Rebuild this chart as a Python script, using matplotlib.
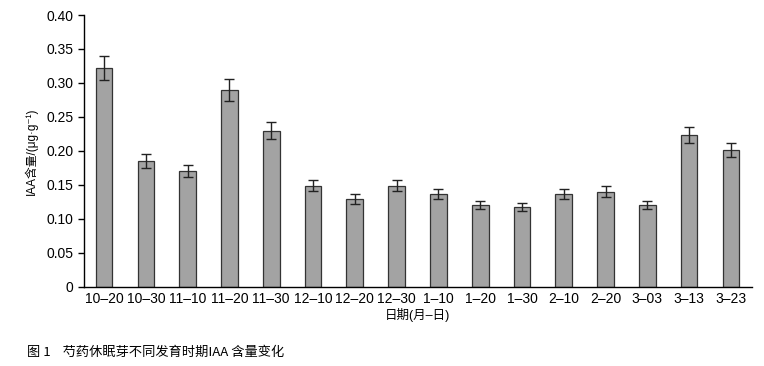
import numpy as np
import matplotlib
matplotlib.use("Agg")
import matplotlib.pyplot as plt

plt.rcParams['font.family'] = ['Liberation Sans', 'Noto Sans CJK SC', 'DejaVu Sans']

# === données ===
dates = ['10-20', '10-30', '11-10', '11-20', '11-30', '12-10', '12-20', '12-30',
         '1-10', '1-20', '1-30', '2-10', '2-20', '3-03', '3-13', '3-23']
iaa = [0.322, 0.185, 0.170, 0.290, 0.230, 0.149, 0.129, 0.149,
       0.137, 0.121, 0.118, 0.137, 0.140, 0.121, 0.224, 0.201]
err = [0.017, 0.010, 0.009, 0.016, 0.012, 0.008, 0.007, 0.008,
       0.007, 0.006, 0.006, 0.007, 0.008, 0.006, 0.012, 0.010]
yticks = [0, 0.05, 0.10, 0.15, 0.20, 0.25, 0.30, 0.35, 0.40]
ytick_labels = ['0', '0.05', '0.10', '0.15', '0.20', '0.25', '0.30', '0.35', '0.40']

fig = plt.figure(figsize=(7.64, 3.66), dpi=100)
ax = fig.add_axes([0.110, 0.216, 0.874, 0.743])

x = np.arange(len(dates))
ax.bar(x, iaa, width=0.4, color='#a3a3a3', edgecolor='#333333', linewidth=0.9,
       yerr=err, capsize=3.6, error_kw=dict(ecolor='#222222', elinewidth=1, capthick=1))

ax.set_xlim(-0.48, len(dates) - 0.5)
ax.set_ylim(0, 0.40)
ax.set_yticks(yticks)
ax.set_yticklabels(ytick_labels, fontsize=10)
ax.set_xticks(x)
ax.set_xticklabels([d.replace('-', '–') for d in dates], fontsize=10)
ax.tick_params(axis='x', length=0, pad=4)
ax.tick_params(axis='y', length=4, width=1)

for s in ['top', 'right']:
    ax.spines[s].set_visible(False)
for s in ['left', 'bottom']:
    ax.spines[s].set_linewidth(1)

ax.set_ylabel('IAA含量/(μg·g⁻¹)', fontsize=8.5, labelpad=6)
ax.set_xlabel('日期(月–日)', fontsize=9, labelpad=1)

fig.text(0.035, 0.038, '图 1    芍药休眠芽不同发育时期IAA 含量变化', fontsize=9.5,
         ha='left', va='center', family=['Noto Sans CJK SC', 'DejaVu Sans'])

fig.savefig('out.png', dpi=100)
